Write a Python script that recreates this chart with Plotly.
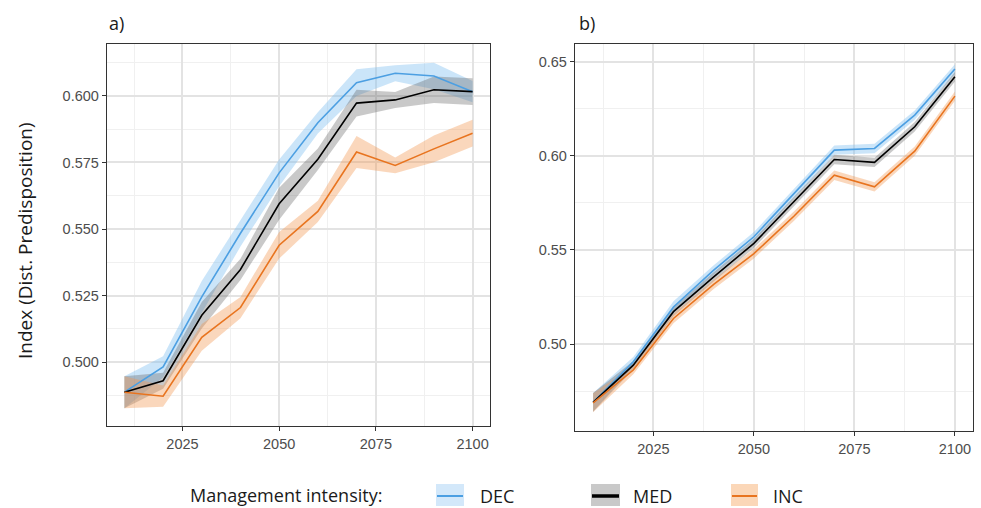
import plotly.graph_objects as go

years = [2010, 2020, 2030, 2040, 2050, 2060, 2070, 2080, 2090, 2100]

# Panel a
a_dec = [0.4887, 0.4982, 0.5245, 0.5484, 0.5711, 0.5899, 0.6050, 0.6085, 0.6075, 0.6016]
a_dec_lo = [0.4827, 0.4942, 0.5185, 0.5434, 0.5661, 0.5859, 0.6000, 0.6055, 0.6025, 0.5976]
a_dec_hi = [0.4947, 0.5022, 0.5305, 0.5534, 0.5761, 0.5939, 0.6100, 0.6115, 0.6125, 0.6056]
a_med = [0.4887, 0.4930, 0.5176, 0.5348, 0.5595, 0.5762, 0.5973, 0.5985, 0.6023, 0.6016]
a_med_lo = [0.4827, 0.4900, 0.5126, 0.5308, 0.5535, 0.5722, 0.5923, 0.5955, 0.5973, 0.5966]
a_med_hi = [0.4947, 0.4960, 0.5226, 0.5388, 0.5655, 0.5802, 0.6023, 0.6015, 0.6073, 0.6066]
a_inc = [0.4887, 0.4872, 0.5093, 0.5205, 0.5439, 0.5566, 0.5789, 0.5739, 0.5801, 0.5860]
a_inc_lo = [0.4827, 0.4832, 0.5043, 0.5165, 0.5389, 0.5526, 0.5729, 0.5709, 0.5751, 0.5810]
a_inc_hi = [0.4947, 0.4912, 0.5143, 0.5245, 0.5489, 0.5606, 0.5849, 0.5769, 0.5851, 0.5910]

# Panel b
b_dec = [0.4690, 0.4906, 0.5197, 0.5393, 0.5570, 0.5800, 0.6030, 0.6039, 0.6216, 0.6461]
b_dec_lo = [0.4640, 0.4881, 0.5167, 0.5368, 0.5545, 0.5775, 0.6005, 0.6014, 0.6191, 0.6436]
b_dec_hi = [0.4740, 0.4931, 0.5227, 0.5418, 0.5595, 0.5825, 0.6055, 0.6064, 0.6241, 0.6486]
b_med = [0.4690, 0.4888, 0.5172, 0.5357, 0.5535, 0.5760, 0.5980, 0.5965, 0.6154, 0.6420]
b_med_lo = [0.4640, 0.4866, 0.5147, 0.5332, 0.5510, 0.5735, 0.5955, 0.5940, 0.6129, 0.6395]
b_med_hi = [0.4740, 0.4910, 0.5197, 0.5382, 0.5560, 0.5785, 0.6005, 0.5990, 0.6179, 0.6445]
b_inc = [0.4688, 0.4862, 0.5136, 0.5317, 0.5480, 0.5680, 0.5897, 0.5835, 0.6025, 0.6317]
b_inc_lo = [0.4638, 0.4840, 0.5111, 0.5292, 0.5455, 0.5655, 0.5872, 0.5810, 0.6000, 0.6292]
b_inc_hi = [0.4738, 0.4884, 0.5161, 0.5342, 0.5505, 0.5705, 0.5922, 0.5860, 0.6050, 0.6342]

x_ticks = [2025, 2050, 2075, 2100]
x_minor = [2012.5, 2037.5, 2062.5, 2087.5]
a_yticks = [0.500, 0.525, 0.550, 0.575, 0.600]
a_yticktext = ["0.500", "0.525", "0.550", "0.575", "0.600"]
a_yminor = [0.4875, 0.5125, 0.5375, 0.5625, 0.5875, 0.6125]
b_yticks = [0.50, 0.55, 0.60, 0.65]
b_yticktext = ["0.50", "0.55", "0.60", "0.65"]
b_yminor = [0.475, 0.525, 0.575, 0.625]

series_names = ["DEC", "MED", "INC"]
line_colors = {"DEC": "#4C9FE2", "MED": "#000000", "INC": "#E8741F"}
band_colors = {"DEC": "rgba(125,190,240,0.40)", "MED": "rgba(90,90,90,0.33)", "INC": "rgba(242,150,80,0.38)"}
key_fill = {"DEC": "#D3E8FA", "MED": "#C9C9C9", "INC": "#FBD7B8"}

panels = {
    "a": {"xa": "x", "ya": "y",
          "DEC": (a_dec, a_dec_lo, a_dec_hi),
          "MED": (a_med, a_med_lo, a_med_hi),
          "INC": (a_inc, a_inc_lo, a_inc_hi)},
    "b": {"xa": "x2", "ya": "y2",
          "DEC": (b_dec, b_dec_lo, b_dec_hi),
          "MED": (b_med, b_med_lo, b_med_hi),
          "INC": (b_inc, b_inc_lo, b_inc_hi)},
}

fig = go.Figure()
for p in panels.values():
    for s in series_names:
        mid, lo, hi = p[s]
        fig.add_trace(go.Scatter(x=years, y=lo, mode="lines", line=dict(width=0),
                                 xaxis=p["xa"], yaxis=p["ya"], showlegend=False, hoverinfo="skip"))
        fig.add_trace(go.Scatter(x=years, y=hi, mode="lines", line=dict(width=0),
                                 fill="tonexty", fillcolor=band_colors[s],
                                 xaxis=p["xa"], yaxis=p["ya"], showlegend=False, hoverinfo="skip"))
    for s in series_names:
        mid, lo, hi = p[s]
        fig.add_trace(go.Scatter(x=years, y=mid, mode="lines", name=s,
                                 line=dict(color=line_colors[s], width=1.6),
                                 xaxis=p["xa"], yaxis=p["ya"], showlegend=False))

W, H = 981, 508
tickfont = dict(family="Liberation Sans, Arial, sans-serif", size=14.5, color="#4d4d4d")
border = "#333333"
grid_major = "#e3e3e3"
grid_minor = "#f0f0f0"

def xax(domain):
    return dict(domain=domain, range=[2005.5, 2104.5], tickvals=x_ticks,
                ticktext=[str(v) for v in x_ticks], tickfont=tickfont,
                ticks="outside", ticklen=4, tickwidth=1.2, tickcolor=border,
                showline=True, mirror=True, linecolor=border, linewidth=1.4,
                showgrid=True, gridcolor=grid_major, gridwidth=1.6, zeroline=False,
                minor=dict(tickvals=x_minor, showgrid=True, gridcolor=grid_minor, gridwidth=1, ticks=""))

def yax(domain, rng, tv, tt, mv, anchor):
    return dict(domain=domain, range=rng, tickvals=tv, ticktext=tt, tickfont=tickfont,
                ticks="outside", ticklen=4, tickwidth=1.2, tickcolor=border,
                showline=True, mirror=True, linecolor=border, linewidth=1.4,
                showgrid=True, gridcolor=grid_major, gridwidth=1.6, zeroline=False,
                anchor=anchor,
                minor=dict(tickvals=mv, showgrid=True, gridcolor=grid_minor, gridwidth=1, ticks=""))

fig.update_layout(
    width=W, height=H, autosize=False,
    margin=dict(l=0, r=0, t=0, b=0),
    paper_bgcolor="white", plot_bgcolor="white",
    xaxis=dict(**xax([107 / W, 490 / W]), anchor="y"),
    yaxis=yax([1 - 426 / H, 1 - 44 / H], [0.476, 0.6195], a_yticks, a_yticktext, a_yminor, "x"),
    xaxis2=dict(**xax([575 / W, 973 / W]), anchor="y2"),
    yaxis2=yax([1 - 431 / H, 1 - 44 / H], [0.4538, 0.6594], b_yticks, b_yticktext, b_yminor, "x2"),
    showlegend=False,
)

textfont = dict(family="Open Sans, sans-serif", color="#1a1a1a")
annotations = [
    dict(text="a)", x=107 / W, y=1 - 23 / H, xref="paper", yref="paper", xanchor="left", yanchor="middle",
         showarrow=False, font=dict(**textfont, size=18)),
    dict(text="b)", x=577 / W, y=1 - 23 / H, xref="paper", yref="paper", xanchor="left", yanchor="middle",
         showarrow=False, font=dict(**textfont, size=18)),
    dict(text="Index (Dist. Predisposition)", x=25 / W, y=1 - 241 / H, xref="paper", yref="paper",
         xanchor="center", yanchor="middle", textangle=-90, showarrow=False,
         font=dict(**textfont, size=19)),
    dict(text="Management intensity:", x=188 / W, y=1 - 495 / H, xref="paper", yref="paper",
         xanchor="left", yanchor="middle", showarrow=False, font=dict(**textfont, size=18)),
]

legend_pos = {"DEC": (436, 464, 478), "MED": (591, 620, 631), "INC": (731, 758, 771)}
shapes = []
for s in series_names:
    x0, x1, tx = legend_pos[s]
    shapes.append(dict(type="rect", xref="paper", yref="paper", x0=x0 / W, x1=x1 / W,
                       y0=1 - 506 / H, y1=1 - 484 / H, fillcolor=key_fill[s], line=dict(width=0)))
    shapes.append(dict(type="line", xref="paper", yref="paper", x0=(x0 + 1) / W, x1=(x1 - 1) / W,
                       y0=1 - 496 / H, y1=1 - 496 / H,
                       line=dict(color=line_colors[s], width=3.5 if s == "MED" else 2)))
    annotations.append(dict(text=s, x=tx / W, y=1 - 496 / H, xref="paper", yref="paper",
                            xanchor="left", yanchor="middle", showarrow=False,
                            font=dict(**textfont, size=18)))

fig.update_layout(annotations=annotations, shapes=shapes)
fig.write_html("out.html", config={"displayModeBar": False},
               post_script="document.body.style.margin='0';document.body.style.padding='0';"
                           "document.documentElement.style.overflow='hidden';")
